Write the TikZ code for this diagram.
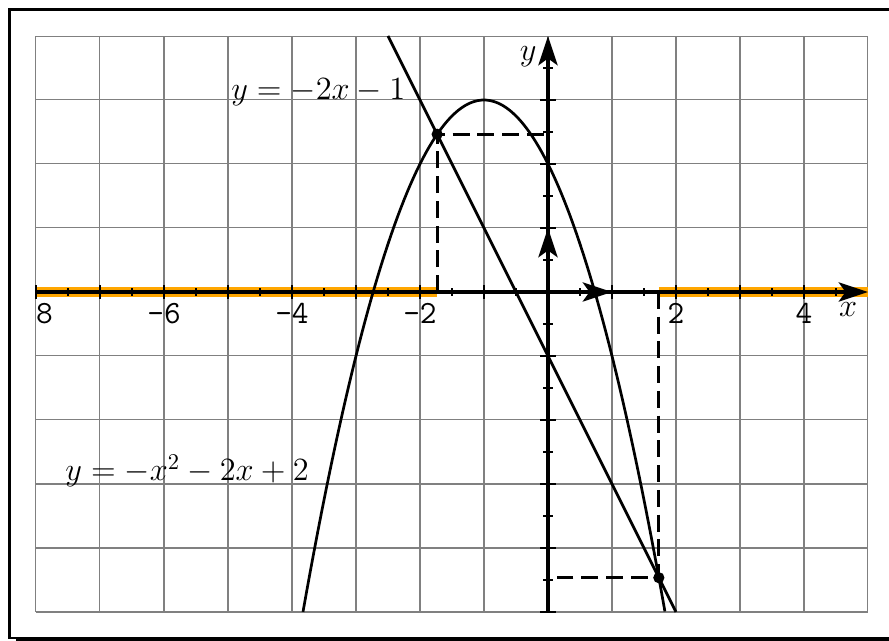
\documentclass[tikz,border=0pt]{standalone}
\usetikzlibrary{arrows.meta}
\begin{document}
\begin{tikzpicture}[
    gridline/.style={gray, line width=0.45pt},
    axisline/.style={line width=1.5pt, -{Stealth[length=13pt,width=8.5pt,inset=3pt]}},
    curve/.style={line width=1.2pt},
    guide/.style={line width=1.25pt, dash pattern=on 7.5pt off 3.5pt},
    solution/.style={orange!70!yellow, line width=4.5pt},
    ticklabel/.style={font=\Large\ttfamily, inner sep=0pt},
    eqlabel/.style={font=\Large, anchor=base, inner sep=0pt}
  ]
    \path[use as bounding box, clip] (-8.5625,-5.453) rectangle (5.328,4.5625);
    \draw[line width=1.1pt] (-8.414,-5.406) rectangle (6,4.414);
    \fill (-8.31,-5.406) rectangle (6,-5.6);
    \draw[gridline] (-8,-5) grid (5,4);
    \coordinate (O) at (0,0);
    \coordinate (E1) at (1,0);
    \coordinate (E2) at (0,1);
    \coordinate (A) at ({-sqrt(3)},{2*sqrt(3)-1});
    \coordinate (B) at ({sqrt(3)},{-2*sqrt(3)-1});
    \draw[solution] (-8,0) -- (A |- O);
    \draw[solution] (B |- O) -- (5,0);
    \foreach \t in {-8,...,4} {
      \draw[line width=0.6pt] (\t,-0.11) -- (\t,0.11);
      \draw[line width=0.6pt] (\t+0.5,-0.06) -- (\t+0.5,0.06);
    }
    \foreach \t in {-5,...,3} {
      \draw[line width=0.6pt] (-0.12,\t) -- (0.12,\t);
      \draw[line width=0.6pt] (-0.075,\t+0.5) -- (0.075,\t+0.5);
    }
    \draw[axisline] (-8,0) -- (5,0);
    \draw[axisline] (0,-5) -- (0,4);
    \draw[curve] (-2.5,4) -- (2,-5);
    \draw[curve] plot[domain=-3.828:1.828, samples=90, smooth] (\x,{-(\x)^2-2*(\x)+2});
    \draw[guide] (A |- O) -- (A) -- (A -| O);
    \draw[guide] (B |- O) -- (B) -- (B -| O);
    \fill (A) circle (2.5pt);
    \fill (B) circle (2.5pt);
    \draw[axisline] (O) -- (E1);
    \draw[axisline] (O) -- (E2);
    \node[font=\Large] (xlab) at (4.69,-0.28) {$x$};
    \node[font=\Large] (ylab) at (-0.31,3.67) {$y$};
    \node[eqlabel] (linelab) at (-3.59,3) {$y=-2x-1$};
    \node[eqlabel] (parablab) at (-5.64,-2.95) {$y=-x^2-2x+2$};
    \node[ticklabel] (tick-8) at (-7.867,-0.34) {8};
    \foreach \v in {-6,-4,-2,2,4}
      \node[ticklabel] (tick\v) at (\v,-0.34) {\v};
  \end{tikzpicture}
\end{document}
